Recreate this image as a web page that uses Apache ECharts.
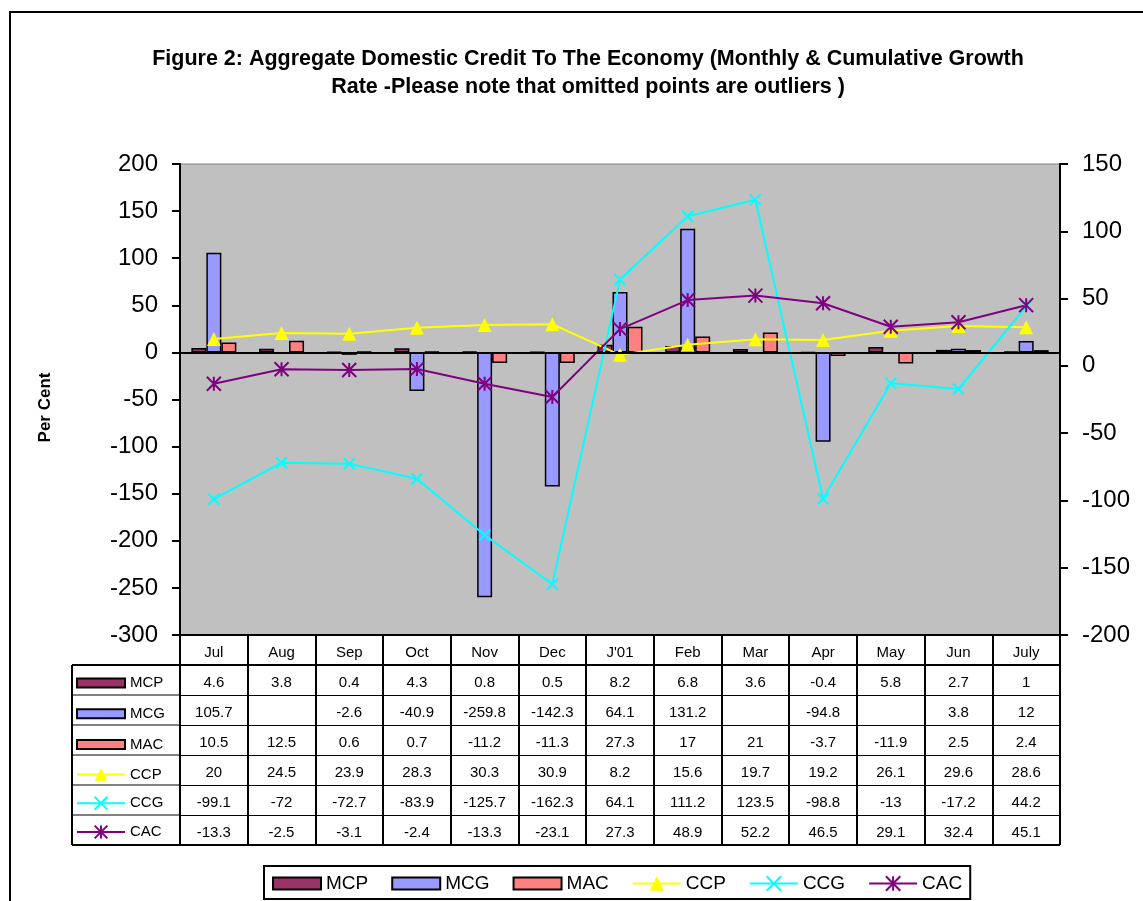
<!DOCTYPE html>
<html>
<head>
<meta charset="utf-8">
<title>Figure 2</title>
<script src="https://cdn.jsdelivr.net/npm/echarts@6/dist/echarts.min.js"></script>
<style>
    html, body { margin: 0; padding: 0; background: #fff; }
    #chart { width: 1143px; height: 901px; }
</style>
</head>
<body>
<div id="chart"></div>
<script>
// categories
const months = ["Jul", "Aug", "Sep", "Oct", "Nov", "Dec", "J'01", "Feb", "Mar", "Apr", "May", "Jun", "July"];
// monthly growth rates (bars, left axis) - null = omitted outlier
const mcp = [4.6, 3.8, 0.4, 4.3, 0.8, 0.5, 8.2, 6.8, 3.6, -0.4, 5.8, 2.7, 1];
const mcg = [105.7, null, -2.6, -40.9, -259.8, -142.3, 64.1, 131.2, null, -94.8, null, 3.8, 12];
const mac = [10.5, 12.5, 0.6, 0.7, -11.2, -11.3, 27.3, 17, 21, -3.7, -11.9, 2.5, 2.4];
// cumulative growth rates (lines, right axis)
const ccp = [20, 24.5, 23.9, 28.3, 30.3, 30.9, 8.2, 15.6, 19.7, 19.2, 26.1, 29.6, 28.6];
const ccg = [-99.1, -72, -72.7, -83.9, -125.7, -162.3, 64.1, 111.2, 123.5, -98.8, -13, -17.2, 44.2];
const cac = [-13.3, -2.5, -3.1, -2.4, -13.3, -23.1, 27.3, 48.9, 52.2, 46.5, 29.1, 32.4, 45.1];
// axis ticks: [min, max, step]
const leftTicks = [-300, 200, 50];
const rightTicks = [-200, 150, 50];

const FONT = "'Liberation Sans', Arial, sans-serif";

// layout
const G_LEFT = 180, G_TOP = 164, G_RIGHT = 1060, G_BOTTOM = 635;
const ROW = 30;          // data table row height
const TAB_LEFT = 72;     // left edge of the table key column

const X_PATH = "path://M0,0L10,10M10,0L0,10";
const STAR_PATH = "path://M5,0L5,10M0,0L10,10M10,0L0,10";

const barSeries = [
    { name: "MCP", data: mcp, color: "#993366" },
    { name: "MCG", data: mcg, color: "#9999FF" },
    { name: "MAC", data: mac, color: "#FF8080" },
];
const lineSeries = [
    { name: "CCP", data: ccp, color: "#FFFF00", symbol: "triangle", size: 14, stroke: 0 },
    { name: "CCG", data: ccg, color: "#00FFFF", symbol: X_PATH, size: 11, stroke: 2 },
    { name: "CAC", data: cac, color: "#800080", symbol: STAR_PATH, size: 14, stroke: 2 },
];
const names = barSeries.concat(lineSeries).map(s => s.name);

// rows of the data table (header + one per series)
const tableRows = [months].concat(
    barSeries.concat(lineSeries).map(s => s.data.map(v => (v == null ? "" : String(v))))
);

// bar keys: a rect inside a taller box so it lines up with the line keys
function barIcon(h, rh) {
    const y0 = (h - rh) / 2;
    return "path://M0,0M0," + y0 + "L48," + y0 + "L48," + (y0 + rh) + "L0," + (y0 + rh) + "ZM48," + h;
}
function legendData(h, rh) {
    return names.map((n, i) => (i < 3 ? { name: n, icon: barIcon(h, rh) } : { name: n }));
}

let chart = echarts.init(document.getElementById("chart"));

const series = barSeries.map(s => ({
    name: s.name,
    type: "bar",
    data: s.data,
    barWidth: 15,
    barGap: "0%",
    itemStyle: { color: s.color, borderColor: "#000", borderWidth: 1.5 },
})).concat(lineSeries.map(s => ({
    name: s.name,
    type: "line",
    yAxisIndex: 1,
    data: s.data,
    symbol: s.symbol,
    symbolSize: s.size,
    lineStyle: { color: s.color, width: 2 },
    itemStyle: { color: s.color, borderColor: s.color, borderWidth: s.stroke },
    z: 3,
})));

// table key column lines and outer frame
const graphics = [
    { type: "rect", shape: { x: 10, y: 12, width: 1300, height: 1000 }, style: { fill: null, stroke: "#000", lineWidth: 2 }, silent: true },
    { type: "line", shape: { x1: TAB_LEFT, y1: G_BOTTOM + ROW, x2: TAB_LEFT, y2: G_BOTTOM + 7 * ROW }, style: { stroke: "#000", lineWidth: 2 } },
    { type: "line", shape: { x1: TAB_LEFT, y1: G_BOTTOM + 7 * ROW, x2: G_RIGHT, y2: G_BOTTOM + 7 * ROW }, style: { stroke: "#000", lineWidth: 2 } },
];
for (let k = 1; k < 7; k++) {
    graphics.push({
        type: "line",
        shape: { x1: TAB_LEFT, y1: G_BOTTOM + k * ROW, x2: G_LEFT, y2: G_BOTTOM + k * ROW },
        style: { stroke: "#000", lineWidth: k === 1 ? 2 : 1 },
    });
}

const option = {
    animation: false,
    backgroundColor: "#fff",
    textStyle: { fontFamily: FONT },
    title: {
        text: "Figure 2: Aggregate Domestic Credit To The Economy (Monthly & Cumulative Growth\nRate -Please note that omitted points are outliers )",
        left: 583,
        textAlign: "center",
        top: 40,
        textStyle: { fontSize: 21.5, fontWeight: "bold", lineHeight: 28, color: "#000", fontFamily: FONT },
    },
    legend: [
        {
            data: legendData(18, 12),
            left: 264,
            top: 866,
            itemWidth: 48,
            itemHeight: 18,
            itemGap: 23,
            padding: [3, 8, 1, 8],
            borderColor: "#000",
            borderWidth: 2,
            selectedMode: false,
            textStyle: { fontSize: 19, lineHeight: 17, color: "#000", fontFamily: FONT, padding: [12, 0, 0, 0] },
        },
        {
            data: legendData(16, 9),
            orient: "vertical",
            left: 76,
            top: G_BOTTOM + ROW + 9,
            itemWidth: 48,
            itemHeight: 16,
            itemGap: 12.8,
            padding: 0,
            selectedMode: false,
            textStyle: { fontSize: 15, lineHeight: 16, color: "#000", fontFamily: FONT },
        },
    ],
    grid: {
        left: G_LEFT,
        top: G_TOP,
        width: G_RIGHT - G_LEFT,
        height: G_BOTTOM - G_TOP,
        show: true,
        backgroundColor: "#C0C0C0",
        borderColor: "#808080",
        borderWidth: 1,
        outerBoundsMode: "none",
    },
    xAxis: [
        {
            type: "category",
            data: months,
            axisLine: { onZero: true, lineStyle: { color: "#000", width: 2 } },
            axisTick: { show: false },
            axisLabel: { show: false },
            splitLine: { show: false },
            z: 4,
        },
    ].concat(tableRows.map((row, k) => ({
        type: "category",
        data: row,
        position: "bottom",
        offset: k * ROW,
        axisLine: { onZero: false, lineStyle: { color: "#000", width: k < 2 ? 2 : 1 } },
        axisTick: { show: true, interval: 0, length: ROW, lineStyle: { color: "#000", width: 2 } },
        axisLabel: {
            interval: 0,
            margin: 18,
            verticalAlign: "middle",
            fontSize: 15,
            color: "#000",
            fontFamily: FONT,
        },
        splitLine: { show: false },
    }))),
    yAxis: [
        {
            type: "value",
            min: leftTicks[0],
            max: leftTicks[1],
            interval: leftTicks[2],
            name: "Per Cent",
            nameLocation: "middle",
            nameRotate: 90,
            nameGap: 126,
            nameTextStyle: { fontSize: 17, fontWeight: "bold", color: "#000", fontFamily: FONT, padding: [0, 16, 0, 0] },
            axisLine: { show: true, lineStyle: { color: "#000", width: 2 } },
            axisTick: { show: true, length: 8, lineStyle: { color: "#000", width: 2 } },
            axisLabel: { fontSize: 24, color: "#000", margin: 22, fontFamily: FONT },
            splitLine: { show: false },
        },
        {
            type: "value",
            min: rightTicks[0],
            max: rightTicks[1],
            interval: rightTicks[2],
            position: "right",
            axisLine: { show: true, lineStyle: { color: "#000", width: 2 } },
            axisTick: { show: true, length: 8, lineStyle: { color: "#000", width: 2 } },
            axisLabel: { fontSize: 24, color: "#000", margin: 22, fontFamily: FONT },
            splitLine: { show: false },
        },
    ],
    series: series,
    graphic: graphics,
};

chart.setOption(option);
</script>
</body>
</html>
